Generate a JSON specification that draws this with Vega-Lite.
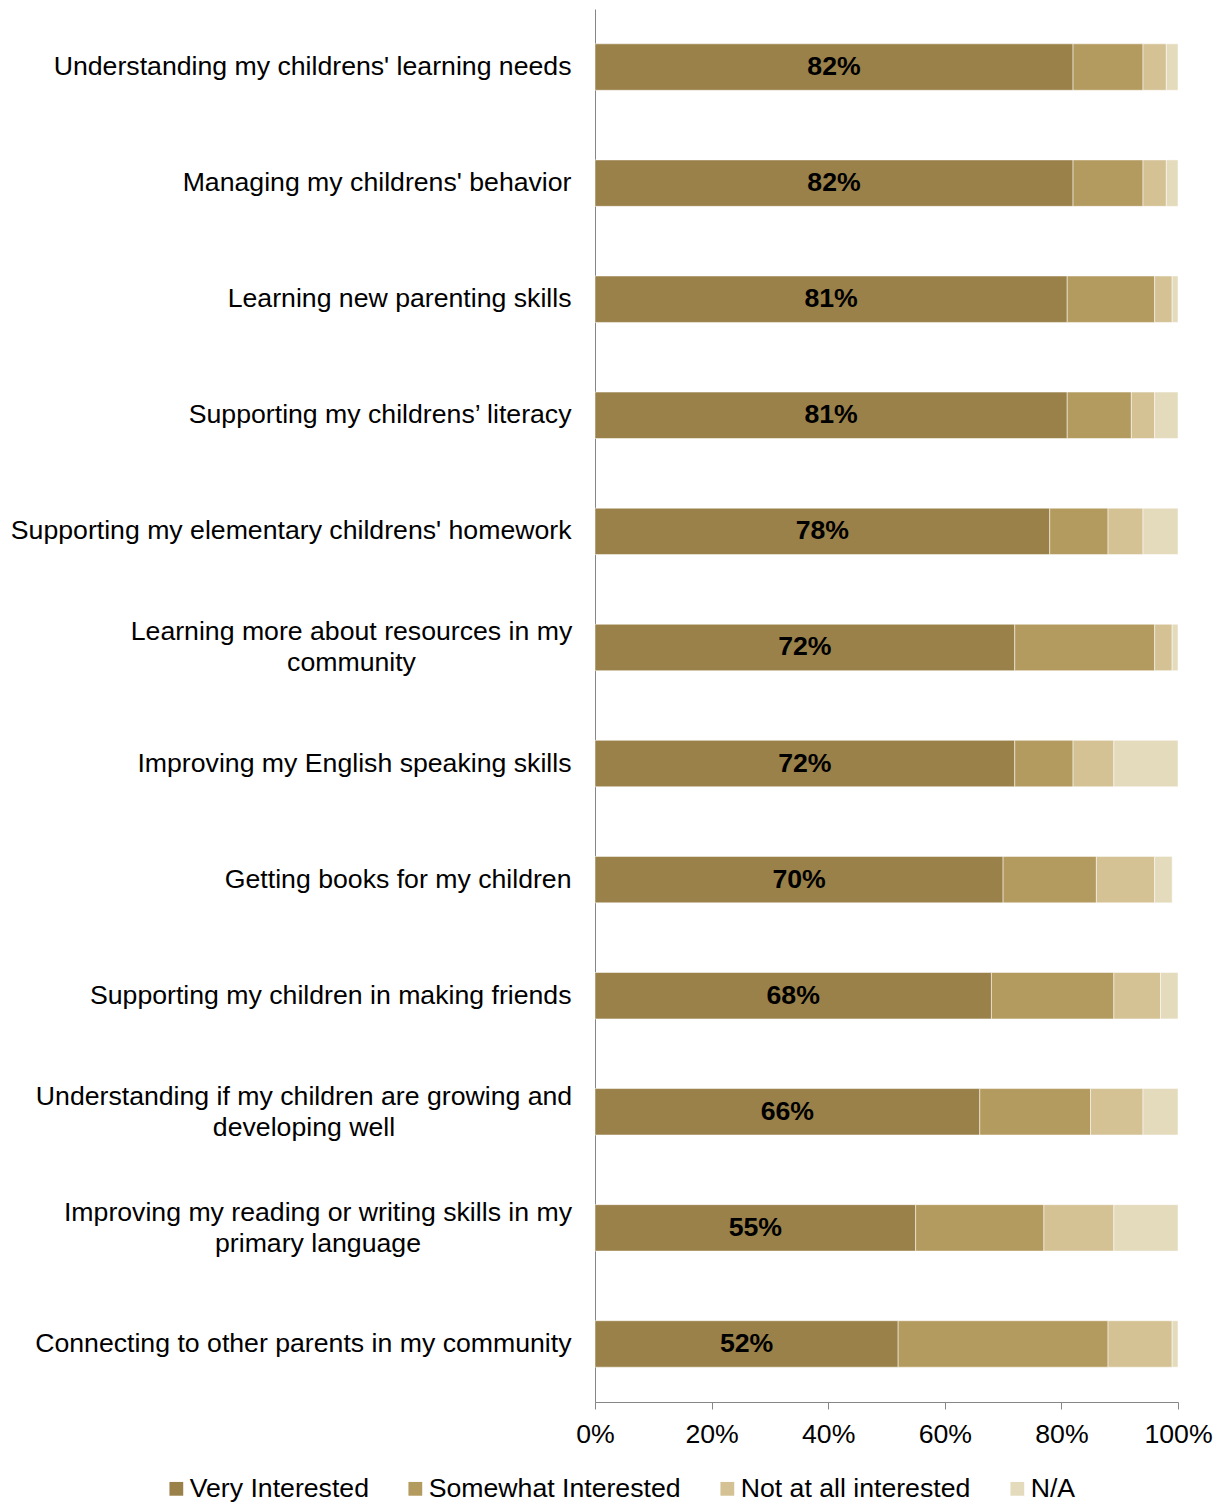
{
  "$schema": "https://vega.github.io/schema/vega-lite/v6.json",
  "width": 583,
  "height": 1393,
  "autosize": {"type": "none"},
  "padding": {"left": 595, "top": 9, "right": 39, "bottom": 103},
  "background": "white",
  "config": {
    "view": {"stroke": null},
    "font": "Liberation Sans",
    "axis": {"labelFont": "Liberation Sans", "labelFontSize": 26.67, "labelColor": "#000000", "domainColor": "#868686", "tickColor": "#868686", "grid": false}
  },
  "data": {"values": [
    {"q": "Understanding my childrens' learning needs", "r": "Very Interested", "k": 1, "v": 0.82},
    {"q": "Understanding my childrens' learning needs", "r": "Somewhat Interested", "k": 2, "v": 0.12},
    {"q": "Understanding my childrens' learning needs", "r": "Not at all interested", "k": 3, "v": 0.04},
    {"q": "Understanding my childrens' learning needs", "r": "N/A", "k": 4, "v": 0.02},
    {"q": "Managing my childrens' behavior", "r": "Very Interested", "k": 1, "v": 0.82},
    {"q": "Managing my childrens' behavior", "r": "Somewhat Interested", "k": 2, "v": 0.12},
    {"q": "Managing my childrens' behavior", "r": "Not at all interested", "k": 3, "v": 0.04},
    {"q": "Managing my childrens' behavior", "r": "N/A", "k": 4, "v": 0.02},
    {"q": "Learning new parenting skills", "r": "Very Interested", "k": 1, "v": 0.81},
    {"q": "Learning new parenting skills", "r": "Somewhat Interested", "k": 2, "v": 0.15},
    {"q": "Learning new parenting skills", "r": "Not at all interested", "k": 3, "v": 0.03},
    {"q": "Learning new parenting skills", "r": "N/A", "k": 4, "v": 0.01},
    {"q": "Supporting my childrens’ literacy", "r": "Very Interested", "k": 1, "v": 0.81},
    {"q": "Supporting my childrens’ literacy", "r": "Somewhat Interested", "k": 2, "v": 0.11},
    {"q": "Supporting my childrens’ literacy", "r": "Not at all interested", "k": 3, "v": 0.04},
    {"q": "Supporting my childrens’ literacy", "r": "N/A", "k": 4, "v": 0.04},
    {"q": "Supporting my elementary childrens' homework", "r": "Very Interested", "k": 1, "v": 0.78},
    {"q": "Supporting my elementary childrens' homework", "r": "Somewhat Interested", "k": 2, "v": 0.10},
    {"q": "Supporting my elementary childrens' homework", "r": "Not at all interested", "k": 3, "v": 0.06},
    {"q": "Supporting my elementary childrens' homework", "r": "N/A", "k": 4, "v": 0.06},
    {"q": "Learning more about resources in my|community", "r": "Very Interested", "k": 1, "v": 0.72},
    {"q": "Learning more about resources in my|community", "r": "Somewhat Interested", "k": 2, "v": 0.24},
    {"q": "Learning more about resources in my|community", "r": "Not at all interested", "k": 3, "v": 0.03},
    {"q": "Learning more about resources in my|community", "r": "N/A", "k": 4, "v": 0.01},
    {"q": "Improving my English speaking skills", "r": "Very Interested", "k": 1, "v": 0.72},
    {"q": "Improving my English speaking skills", "r": "Somewhat Interested", "k": 2, "v": 0.10},
    {"q": "Improving my English speaking skills", "r": "Not at all interested", "k": 3, "v": 0.07},
    {"q": "Improving my English speaking skills", "r": "N/A", "k": 4, "v": 0.11},
    {"q": "Getting books for my children", "r": "Very Interested", "k": 1, "v": 0.70},
    {"q": "Getting books for my children", "r": "Somewhat Interested", "k": 2, "v": 0.16},
    {"q": "Getting books for my children", "r": "Not at all interested", "k": 3, "v": 0.10},
    {"q": "Getting books for my children", "r": "N/A", "k": 4, "v": 0.03},
    {"q": "Supporting my children in making friends", "r": "Very Interested", "k": 1, "v": 0.68},
    {"q": "Supporting my children in making friends", "r": "Somewhat Interested", "k": 2, "v": 0.21},
    {"q": "Supporting my children in making friends", "r": "Not at all interested", "k": 3, "v": 0.08},
    {"q": "Supporting my children in making friends", "r": "N/A", "k": 4, "v": 0.03},
    {"q": "Understanding if my children are growing and|developing well", "r": "Very Interested", "k": 1, "v": 0.66},
    {"q": "Understanding if my children are growing and|developing well", "r": "Somewhat Interested", "k": 2, "v": 0.19},
    {"q": "Understanding if my children are growing and|developing well", "r": "Not at all interested", "k": 3, "v": 0.09},
    {"q": "Understanding if my children are growing and|developing well", "r": "N/A", "k": 4, "v": 0.06},
    {"q": "Improving my reading or writing skills in my|primary language", "r": "Very Interested", "k": 1, "v": 0.55},
    {"q": "Improving my reading or writing skills in my|primary language", "r": "Somewhat Interested", "k": 2, "v": 0.22},
    {"q": "Improving my reading or writing skills in my|primary language", "r": "Not at all interested", "k": 3, "v": 0.12},
    {"q": "Improving my reading or writing skills in my|primary language", "r": "N/A", "k": 4, "v": 0.11},
    {"q": "Connecting to other parents in my community", "r": "Very Interested", "k": 1, "v": 0.52},
    {"q": "Connecting to other parents in my community", "r": "Somewhat Interested", "k": 2, "v": 0.36},
    {"q": "Connecting to other parents in my community", "r": "Not at all interested", "k": 3, "v": 0.11},
    {"q": "Connecting to other parents in my community", "r": "N/A", "k": 4, "v": 0.01}
  ]},
  "resolve": {"scale": {"x": "independent"}, "axis": {"x": "independent"}},
  "layer": [
    {
      "mark": {"type": "bar", "stroke": "white", "strokeWidth": 1, "strokeOpacity": 0.5},
      "encoding": {
        "y": {"field": "q", "type": "nominal", "sort": null,
          "scale": {"paddingInner": 0.6, "paddingOuter": 0.3},
          "axis": {"title": null, "ticks": false, "labelExpr": "split(datum.value, '|')", "labelLineHeight": 31, "labelLimit": 0,
            "labelAlign": {"condition": {"test": "indexof(datum.value, '|') >= 0", "value": "center"}, "value": "right"},
            "labelPadding": {"condition": [
              {"test": "indexof(datum.value, 'resources') >= 0", "value": 244},
              {"test": "indexof(datum.value, 'growing') >= 0", "value": 291.5},
              {"test": "indexof(datum.value, 'primary') >= 0", "value": 277.5}
            ], "value": 24},
            "labelOffset": {"condition": {"test": "indexof(datum.value, '|') >= 0", "value": -15}, "value": 0}}},
        "x": {"field": "v", "type": "quantitative", "stack": "zero",
          "scale": {"domain": [0, 1], "nice": false},
          "axis": {"title": null, "format": ".0%", "values": [0, 0.2, 0.4, 0.6, 0.8, 1], "tickSize": 7, "labelPadding": 12, "labelFlush": false}},
        "color": {"field": "r", "type": "nominal",
          "scale": {"domain": ["Very Interested", "Somewhat Interested", "Not at all interested", "N/A"], "range": ["#9A8149", "#B39A5E", "#D4C295", "#E4DABC"]},
          "legend": {"title": null, "orient": "none", "legendX": -432, "legendY": 1466, "direction": "horizontal", "symbolType": "square", "symbolSize": 190, "symbolStrokeWidth": 0, "labelFont": "Liberation Sans", "labelFontSize": 26.67, "labelColor": "#000000", "columnPadding": 33, "labelOffset": 0, "labelLimit": 0}},
        "order": {"field": "k", "type": "quantitative"}
      }
    },
    {
      "transform": [{"filter": "datum.k == 1"}],
      "mark": {"type": "text", "font": "Liberation Sans", "fontSize": 26.67, "fontWeight": "bold", "color": "#000000"},
      "encoding": {
        "y": {"field": "q", "type": "nominal", "sort": null},
        "x": {"field": "v", "type": "quantitative", "scale": {"domain": [0, 2], "nice": false}, "axis": null},
        "text": {"field": "v", "format": ".0%"}
      }
    }
  ]
}
